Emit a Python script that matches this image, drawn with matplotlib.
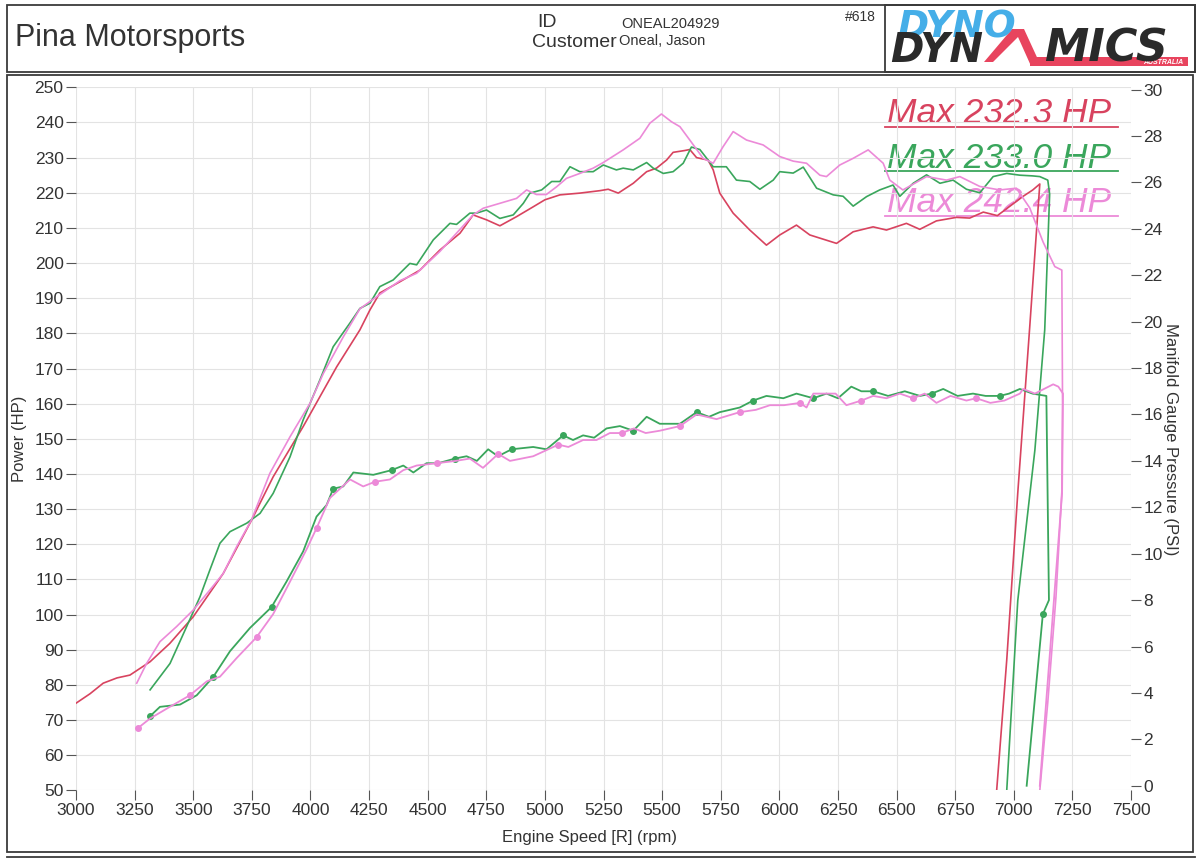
import numpy as np
import matplotlib.pyplot as plt
from matplotlib.patches import Rectangle, Polygon

# colores de cada corrida
c_red = '#d8435f'
c_green = '#3aa65c'
c_pink = '#ec8ad8'

# --- potencia (HP) vs rpm ---
rpm_red = [3000, 3060, 3116, 3175, 3230, 3316, 3400, 3500, 3628, 3749, 3841, 3969, 4112, 4211, 4254,
           4296, 4382, 4467, 4552, 4638, 4694, 4751, 4808, 4879, 4950, 5000, 5064, 5149, 5235, 5270,
           5313, 5377, 5434, 5476, 5519, 5547, 5595, 5618, 5647, 5696, 5718, 5746, 5803, 5874, 5945,
           6002, 6073, 6130, 6187, 6244, 6315, 6400, 6457, 6542, 6599, 6670, 6755, 6812, 6870, 6930,
           6990, 7040, 7081, 7111, 7068, 7017, 6970, 6927]
hp_red = [74.8, 77.5, 80.5, 82.0, 82.8, 86.6, 91.8, 99.4, 111.7, 126.9, 139.2, 153.5, 170.5, 181.0, 186.7,
          191.5, 194.7, 198.0, 203.7, 208.5, 213.7, 212.3, 210.6, 213.2, 216.0, 218.0, 219.4, 219.9, 220.6, 221.0,
          219.9, 222.7, 226.0, 227.0, 229.3, 231.5, 232.0, 232.3, 230.0, 229.3, 226.5, 219.9, 214.2, 209.4, 205.1,
          208.0, 210.8, 208.0, 206.8, 205.6, 208.9, 210.3, 209.4, 211.3, 209.6, 212.0, 213.0, 212.8, 214.5, 213.5,
          216.5, 219.0, 220.8, 222.5, 181.8, 134.6, 87.1, 50.0]

rpm_green = [3316, 3401, 3472, 3529, 3571, 3614, 3657, 3728, 3785, 3841, 3913, 3969, 4040, 4097, 4168,
             4211, 4254, 4296, 4353, 4424, 4453, 4524, 4595, 4623, 4680, 4708, 4751, 4808, 4865, 4908,
             4936, 4986, 5029, 5064, 5107, 5149, 5206, 5249, 5305, 5334, 5377, 5434, 5462, 5505, 5547,
             5590, 5625, 5661, 5696, 5718, 5774, 5817, 5874, 5917, 5974, 6002, 6059, 6102, 6159, 6230,
             6272, 6315, 6372, 6428, 6485, 6514, 6571, 6628, 6685, 6741, 6798, 6855, 6912, 6970, 7026,
             7080, 7111, 7145, 7153, 7132, 7090, 7017, 6970]
hp_green = [78.6, 86.1, 96.6, 105.1, 112.7, 120.3, 123.6, 126.0, 128.8, 134.5, 144.9, 155.4, 166.7, 176.2, 182.9,
            187.1, 188.6, 193.3, 195.2, 199.9, 199.5, 206.6, 211.3, 211.0, 214.2, 214.2, 215.1, 212.7, 213.7, 217.0,
            219.9, 220.8, 223.2, 223.2, 227.4, 226.0, 226.0, 227.9, 226.5, 227.0, 226.5, 228.6, 227.0, 225.5, 226.0,
            228.4, 233.0, 232.3, 229.3, 227.4, 227.4, 223.6, 223.2, 221.0, 223.6, 226.0, 225.6, 227.3, 221.3, 219.4,
            219.0, 216.2, 218.9, 220.8, 222.2, 219.0, 222.7, 225.1, 222.7, 223.6, 221.0, 220.0, 224.6, 225.5, 225.0,
            224.8, 224.6, 223.6, 219.6, 181.0, 146.8, 104.0, 50.0]

rpm_pink = [3259, 3301, 3358, 3429, 3500, 3571, 3628, 3685, 3749, 3827, 3913, 3998, 4055, 4140, 4211,
            4282, 4382, 4453, 4552, 4623, 4694, 4737, 4808, 4879, 4922, 4964, 5006, 5050, 5092, 5149,
            5206, 5249, 5334, 5405, 5448, 5497, 5540, 5576, 5618, 5675, 5718, 5760, 5803, 5860, 5931,
            6002, 6059, 6116, 6173, 6201, 6258, 6315, 6379, 6443, 6471, 6527, 6628, 6713, 6770, 6855,
            6940, 7011, 7068, 7125, 7175, 7205, 7208, 7205, 7180, 7145, 7111]
hp_pink = [80.5, 86.1, 92.3, 96.6, 101.3, 107.0, 111.7, 119.3, 127.0, 140.2, 150.6, 160.1, 168.6, 179.0, 187.0,
           190.4, 195.0, 197.1, 203.3, 208.5, 213.7, 215.6, 217.0, 218.4, 220.8, 219.5, 219.5, 221.7, 224.1, 225.5,
           227.0, 228.6, 232.2, 235.5, 239.8, 242.4, 240.2, 238.8, 235.0, 229.8, 228.4, 233.1, 237.4, 235.0, 233.6,
           230.3, 229.0, 228.4, 225.0, 224.6, 227.9, 229.8, 232.2, 228.4, 223.6, 220.8, 224.6, 223.6, 224.6, 221.8,
           220.8, 221.3, 215.7, 206.0, 199.0, 198.0, 160.0, 135.0, 105.0, 75.0, 50.0]

# --- presion de multiple (PSI) vs rpm ---
rpm_boost_green = [3316, 3358, 3444, 3515, 3586, 3657, 3742, 3834, 3898, 3969, 4026, 4069, 4097, 4140, 4183,
                   4268, 4346, 4396, 4439, 4495, 4545, 4616, 4666, 4710, 4758, 4800, 4858, 4950, 5007, 5078,
                   5120, 5163, 5210, 5263, 5320, 5377, 5434, 5490, 5576, 5647, 5700, 5746, 5831, 5888, 5945,
                   6017, 6073, 6145, 6201, 6250, 6307, 6350, 6400, 6464, 6535, 6600, 6650, 6699, 6760, 6826,
                   6880, 6940, 6980, 7026, 7080, 7139, 7150, 7124, 7055]
psi_green = [3.0, 3.4, 3.5, 3.9, 4.7, 5.8, 6.8, 7.7, 8.8, 10.1, 11.6, 12.1, 12.8, 12.9, 13.5,
             13.4, 13.6, 13.8, 13.5, 13.9, 13.9, 14.1, 14.2, 14.0, 14.5, 14.2, 14.5, 14.6, 14.5, 15.1,
             14.9, 15.1, 15.0, 15.4, 15.5, 15.3, 15.9, 15.6, 15.6, 16.1, 15.9, 16.1, 16.3, 16.6, 16.8,
             16.7, 16.9, 16.7, 16.9, 16.7, 17.2, 17.0, 17.0, 16.8, 17.0, 16.8, 16.9, 17.1, 16.8, 16.9,
             16.8, 16.8, 16.9, 17.1, 16.9, 16.8, 8.0, 7.4, 0.0]
mark_green = [3316, 3586, 3834, 4097, 4346, 4616, 4858, 5078, 5377, 5647, 5888, 6145, 6400, 6650, 6940, 7124]

rpm_boost_pink = [3266, 3316, 3400, 3486, 3558, 3614, 3685, 3770, 3841, 3913, 3984, 4026, 4083, 4126, 4169,
                  4225, 4275, 4339, 4396, 4453, 4538, 4620, 4680, 4736, 4801, 4851, 4950, 4993, 5057, 5100,
                  5163, 5220, 5277, 5327, 5380, 5430, 5490, 5576, 5647, 5690, 5732, 5831, 5900, 5960, 6020,
                  6088, 6116, 6145, 6190, 6240, 6286, 6350, 6400, 6457, 6514, 6571, 6620, 6670, 6730, 6798,
                  6840, 6900, 6960, 7026, 7040, 7090, 7168, 7190, 7210, 7206, 7111]
psi_pink = [2.5, 2.9, 3.4, 3.9, 4.5, 4.7, 5.5, 6.4, 7.4, 8.8, 10.2, 11.1, 12.4, 12.8, 13.2,
            12.9, 13.1, 13.2, 13.6, 13.8, 13.9, 14.0, 14.1, 13.7, 14.3, 14.0, 14.2, 14.4, 14.7, 14.6,
            14.9, 14.9, 15.2, 15.2, 15.4, 15.2, 15.3, 15.5, 16.0, 15.9, 15.8, 16.1, 16.2, 16.4, 16.4,
            16.5, 16.3, 16.9, 16.9, 16.9, 16.4, 16.6, 16.8, 16.7, 16.9, 16.7, 16.9, 16.5, 16.8, 16.6,
            16.7, 16.5, 16.6, 16.9, 17.1, 16.9, 17.3, 17.2, 16.9, 12.6, 0.0]
mark_pink = [3266, 3486, 3770, 4026, 4275, 4538, 4801, 5057, 5327, 5576, 5831, 6088, 6350, 6571, 6840]

max_hp = [232.3, 233.0, 242.4]
run_colors = [c_red, c_green, c_pink]

plt.rcParams['font.family'] = ['Liberation Sans', 'DejaVu Sans']
txt = '#333333'

fig = plt.figure(figsize=(12, 8.61), dpi=100)

# capa de fondo en pixeles: marcos, encabezado, logo
bg = fig.add_axes([0, 0, 1, 1])
bg.set_xlim(0, 1200)
bg.set_ylim(861, 0)
bg.axis('off')
bg.add_patch(Rectangle((7, 5), 1188, 67, fill=False, lw=1.3, ec='#3a3a3a'))
bg.add_patch(Rectangle((885, 5), 310, 67, fill=False, lw=1.3, ec='#3a3a3a'))
bg.add_patch(Rectangle((7, 75), 1186, 777, fill=False, lw=1.3, ec='#3a3a3a'))
bg.plot([7, 1195], [857, 857], color='#3a3a3a', lw=1.3)

bg.text(15, 46, 'Pina Motorsports', fontsize=22, color=txt, va='baseline')
bg.text(537, 27, 'ID', fontsize=14, color=txt, va='baseline')
bg.text(532, 47, 'Customer', fontsize=14, color=txt, va='baseline')
bg.text(621, 28, 'ONEAL204929', fontsize=10.5, color=txt, va='baseline')
bg.text(619, 45, 'Oneal, Jason', fontsize=10.5, color=txt, va='baseline')
bg.text(845, 21, '#618', fontsize=10, color=txt, va='baseline')

# logo Dyno Dynamics (la A es un chevron rojo)
logo = dict(family='DejaVu Sans', weight='heavy', style='oblique', va='baseline')
rojo = '#e8445e'
bg.add_patch(Rectangle((1030, 57), 158, 9, color=rojo, lw=0))
bg.add_patch(Polygon([(984, 62), (1012, 29), (1024, 29), (1041, 66), (1031, 66), (1018, 37), (993, 62)],
                     closed=True, color=rojo, lw=0))
bg.text(1183, 64.5, 'AUSTRALIA', fontsize=5, color='white', ha='right', style='italic', weight='bold', va='baseline')
bg.text(897, 37, 'DYNO', fontsize=27, color='#45aee8', **logo)
bg.text(890, 62, 'DYN', fontsize=29, color='#2a2a2a', **logo)
bg.text(1044, 62, 'MICS', fontsize=32, color='#2a2a2a', **logo)

# eje principal: potencia
ax = fig.add_axes([76 / 1200, (861 - 790.4) / 861, 1055 / 1200, 703.1 / 861])
ax.set_facecolor('none')
ax.set_xlim(3000, 7500)
ax.set_ylim(50, 250)
ax.set_xticks(np.arange(3000, 7501, 250))
ax.set_yticks(np.arange(50, 251, 10))
ax.grid(color='#e3e3e3', lw=0.8)
for s in ax.spines.values():
    s.set_visible(False)
ax.tick_params(direction='out', length=7, width=0.8, color='#555555', labelcolor=txt, labelsize=12.5, pad=2)
ax.set_xlabel('Engine Speed [R] (rpm)', fontsize=12, color=txt)
ax.set_ylabel('Power (HP)', fontsize=12, color=txt)
ax.xaxis.set_label_coords(0.487, -0.056)
ax.yaxis.set_label_coords(-0.046, 0.5)

ax.plot(rpm_red, hp_red, color=c_red, lw=1.2)
ax.plot(rpm_green, hp_green, color=c_green, lw=1.2)
ax.plot(rpm_pink, hp_pink, color=c_pink, lw=1.2)

# eje derecho: presion
ax2 = ax.twinx()
ax2.set_ylim(-0.2, 30.1)
ax2.set_yticks(np.arange(0, 31, 2))
for s in ax2.spines.values():
    s.set_visible(False)
ax2.tick_params(direction='out', length=7, width=0.8, color='#555555', labelcolor=txt, labelsize=12.5, pad=2)
ax2.set_ylabel('Manifold Gauge Pressure (PSI)', fontsize=12, color=txt, rotation=270, va='center')
ax2.yaxis.set_label_coords(1.037, 0.5)

idx_g = [rpm_boost_green.index(v) for v in mark_green]
idx_p = [rpm_boost_pink.index(v) for v in mark_pink]
ax2.plot(rpm_boost_green, psi_green, color=c_green, lw=1.3, marker='o', ms=4, markevery=idx_g)
ax2.plot(rpm_boost_pink, psi_pink, color=c_pink, lw=1.3, marker='o', ms=4, markevery=idx_p)

# leyenda con maximos subrayados
base_y = [123, 168, 212]
line_y = [127, 171, 216]
for mx, col, by, ly in zip(max_hp, run_colors, base_y, line_y):
    bg.text(887, by, 'Max %.1f HP' % mx, fontsize=25.5, style='italic', color=col, va='baseline')
    bg.plot([885, 1118], [ly, ly], color=col, lw=1.3)

fig.savefig('out.png', dpi=100)
